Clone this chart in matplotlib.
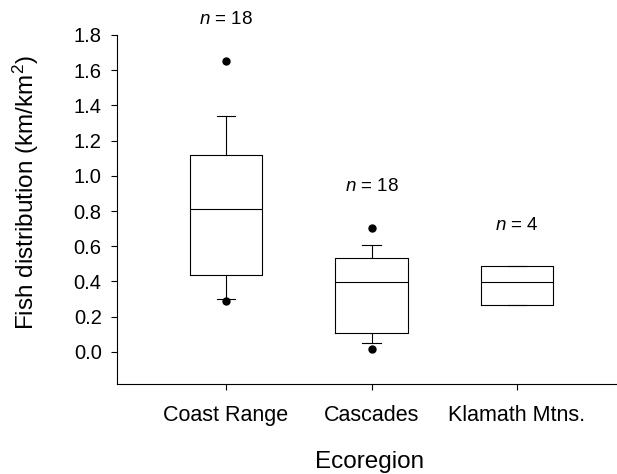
import matplotlib
matplotlib.use("Agg")
import matplotlib.pyplot as plt

# %% Data
regions = ['Coast Range', 'Cascades', 'Klamath Mtns.']
n_labels = ['$n$ = 18', '$n$ = 18', '$n$ = 4']
n_label_y = [1.885, 0.937, 0.716]

q1 = [0.435, 0.108, 0.265]
med = [0.814, 0.396, 0.396]
q3 = [1.119, 0.532, 0.487]
whislo = [0.299, 0.049, 0.265]
whishi = [1.342, 0.609, 0.487]
fliers = [[1.652, 0.290], [0.706, 0.017], []]

plt.rcParams['font.family'] = 'Liberation Sans'
plt.rcParams['mathtext.fontset'] = 'custom'
plt.rcParams['mathtext.rm'] = 'Liberation Sans'
plt.rcParams['mathtext.it'] = 'Liberation Sans:italic'

stats = []
for i in range(len(regions)):
    stats.append(dict(label=regions[i], q1=q1[i], med=med[i], q3=q3[i],
                      whislo=whislo[i], whishi=whishi[i], fliers=fliers[i]))

fig = plt.figure(figsize=(6.17, 4.74), dpi=100)
ax = fig.add_axes([0.1896, 0.19, 0.8104, 0.7363])

lw = 0.8
ax.bxp(stats, positions=[1, 2, 3], widths=0.5, capwidths=0.13,
       boxprops=dict(color='black', linewidth=lw),
       medianprops=dict(color='black', linewidth=lw),
       whiskerprops=dict(color='black', linewidth=lw),
       capprops=dict(color='black', linewidth=lw),
       flierprops=dict(marker='o', markerfacecolor='black', markeredgecolor='black',
                       markersize=5))

for i in range(len(regions)):
    ax.text(i + 1, n_label_y[i], n_labels[i], ha='center', va='center',
            fontsize=13.5, clip_on=False)

ax.set_xlim(0.251, 3.687)
ax.set_ylim(-0.182, 1.8)
ax.set_yticks([0.0, 0.2, 0.4, 0.6, 0.8, 1.0, 1.2, 1.4, 1.6, 1.8])
ax.set_yticklabels(['%.1f' % v for v in ax.get_yticks()])
ax.tick_params(axis='y', labelsize=14.5, length=4, width=lw, pad=7)
ax.tick_params(axis='x', labelsize=15.5, length=4, width=lw, pad=11)
ax.spines['top'].set_visible(False)
ax.spines['right'].set_visible(False)
ax.spines['left'].set_linewidth(lw)
ax.spines['bottom'].set_linewidth(lw)

fig.text(370 / 617, 1 - 462 / 474, 'Ecoregion', fontsize=17.5, ha='center', va='center')
fig.text(26 / 617, 1 - 193 / 474, 'Fish distribution (km/km$^2$)', fontsize=17.5,
         ha='center', va='center', rotation=90)

fig.savefig('out.png', dpi=100)
